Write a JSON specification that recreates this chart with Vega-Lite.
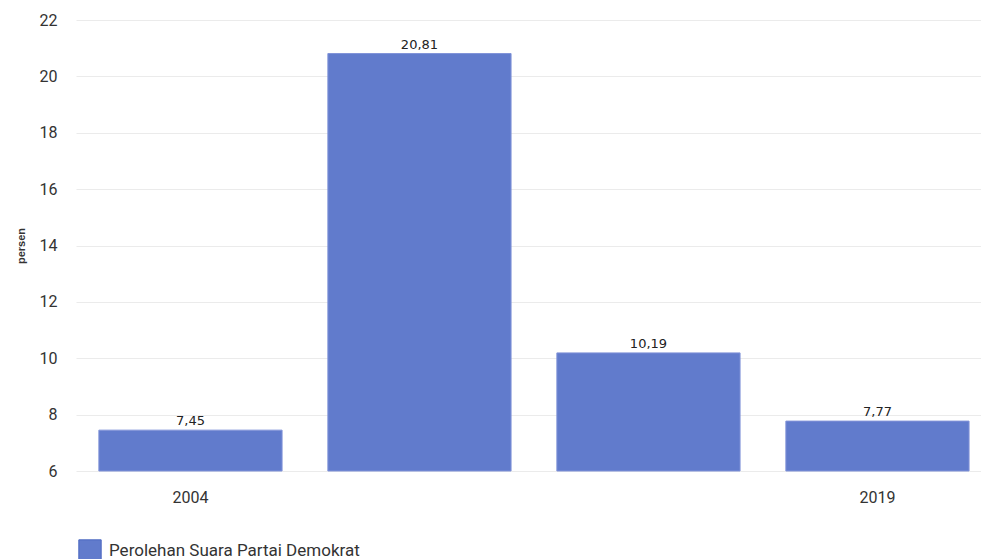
{
  "$schema": "https://vega.github.io/schema/vega-lite/v6.json",
  "width": 905,
  "height": 451,
  "padding": {"left": 76, "top": 20, "right": 0, "bottom": 88},
  "autosize": {"type": "none"},
  "background": "#ffffff",
  "config": {"view": {"stroke": null}},
  "data": {
    "values": [
      {"tahun": "2004", "persen": 7.45, "label": "7,45", "seri": "Perolehan Suara Partai Demokrat"},
      {"tahun": "2009", "persen": 20.81, "label": "20,81", "seri": "Perolehan Suara Partai Demokrat"},
      {"tahun": "2014", "persen": 10.19, "label": "10,19", "seri": "Perolehan Suara Partai Demokrat"},
      {"tahun": "2019", "persen": 7.77, "label": "7,77", "seri": "Perolehan Suara Partai Demokrat"}
    ]
  },
  "encoding": {
    "x": {
      "field": "tahun",
      "type": "nominal",
      "sort": null,
      "scale": {"paddingInner": 0.2, "paddingOuter": 0.076, "align": 0.657},
      "axis": {
        "title": null,
        "values": ["2004", "2019"],
        "labelAngle": 0,
        "ticks": false,
        "domain": false,
        "labelPadding": 18,
        "labelFont": "Roboto",
        "labelFontSize": 16,
        "labelColor": "#333333"
      }
    },
    "y": {
      "field": "persen",
      "type": "quantitative",
      "scale": {"domain": [6, 22], "zero": false, "nice": false},
      "axis": {
        "title": "persen",
        "titleFont": "Liberation Sans",
        "titleFontSize": 11,
        "titleFontWeight": "bold",
        "titleColor": "#333333",
        "titlePadding": 13,
        "values": [6, 8, 10, 12, 14, 16, 18, 20, 22],
        "ticks": false,
        "domain": false,
        "labelPadding": 19,
        "labelFont": "Roboto",
        "labelFontSize": 16,
        "labelColor": "#333333",
        "gridColor": "#ebebeb",
        "gridWidth": 1
      }
    }
  },
  "layer": [
    {
      "mark": {"type": "bar", "stroke": "#8193d8", "strokeWidth": 1},
      "encoding": {
        "y2": {"datum": 6},
        "color": {
          "field": "seri",
          "type": "nominal",
          "scale": {"range": ["#617bcc"]},
          "legend": {
            "title": null,
            "orient": "none",
            "legendX": 2,
            "legendY": 519,
            "symbolType": "square",
            "symbolSize": 500,
            "symbolStrokeColor": "#4a66c0",
            "symbolStrokeWidth": 1,
            "labelFont": "Roboto",
            "labelFontSize": 17,
            "labelColor": "#333333",
            "labelOffset": 7,
            "labelLimit": 500
          }
        }
      }
    },
    {
      "mark": {"type": "text", "baseline": "bottom", "dy": -2, "font": "DejaVu Sans", "fontSize": 13, "color": "#222222"},
      "encoding": {"text": {"field": "label"}}
    }
  ]
}
